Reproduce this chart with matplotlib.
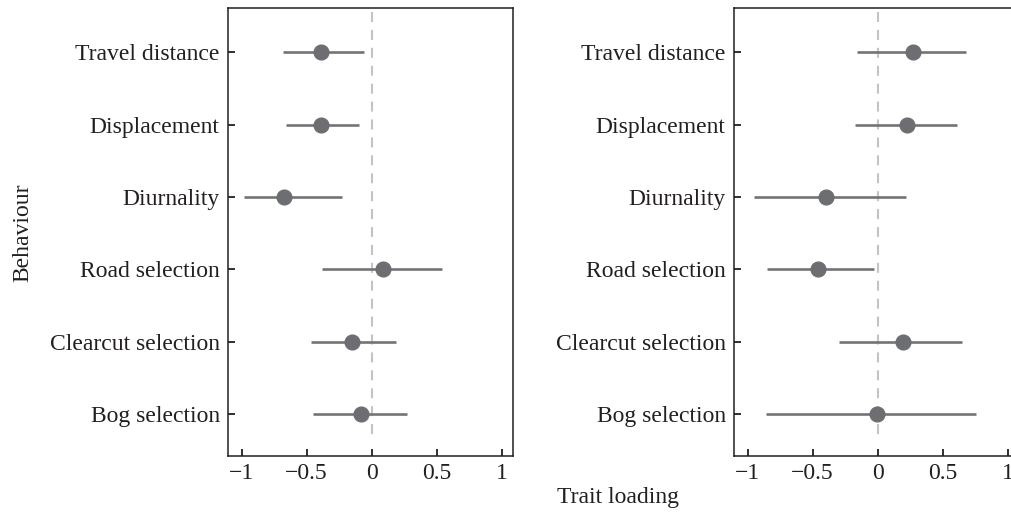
import matplotlib
matplotlib.use("Agg")
import matplotlib.pyplot as plt
import numpy as np

behaviours = ["Bog selection", "Clearcut selection", "Road selection",
              "Diurnality", "Displacement", "Travel distance"]

# left panel
left_est = [-0.08, -0.15, 0.09, -0.675, -0.387, -0.39]
left_lo = [-0.45, -0.47, -0.385, -0.98, -0.657, -0.68]
left_hi = [0.27, 0.19, 0.54, -0.23, -0.10, -0.057]

# right panel
right_est = [-0.005, 0.198, -0.46, -0.40, 0.224, 0.27]
right_lo = [-0.86, -0.30, -0.85, -0.95, -0.172, -0.16]
right_hi = [0.76, 0.65, -0.03, 0.22, 0.613, 0.68]

xticks = [-1, -0.5, 0, 0.5, 1]
xticklabels = ["\u22121", "\u22120.5", "0", "0.5", "1"]

plt.rcParams["font.family"] = ["Liberation Serif", "DejaVu Serif"]
plt.rcParams["font.size"] = 17
text_col = "#231f20"

fig = plt.figure(figsize=(10.11, 5.18), dpi=100)
ax1 = fig.add_axes([228 / 1011, 62 / 518, 284.7 / 1011, 448 / 518])
ax2 = fig.add_axes([734 / 1011, 62 / 518, 284.7 / 1011, 448 / 518])

ypos = np.arange(len(behaviours))

for ax, est, lo, hi in [(ax1, left_est, left_lo, left_hi),
                        (ax2, right_est, right_lo, right_hi)]:
    ax.plot([0, 0], [5.55, -0.36], color="#c3c3c3", lw=1.5,
            linestyle=(0, (4.8, 3.8)), zorder=1)
    ax.hlines(ypos, lo, hi, color="#747476", lw=1.9, zorder=2)
    ax.plot(est, ypos, "o", color="#6d6e71", markersize=10.6, zorder=3)
    ax.set_xlim(-1.105, 1.085)
    ax.set_ylim(-0.58, 5.61)
    ax.set_xticks(xticks)
    ax.set_xticklabels(xticklabels)
    ax.set_yticks(ypos)
    ax.set_yticklabels(behaviours)
    ax.tick_params(direction="in", length=5, width=1.3, colors=text_col,
                   labelcolor=text_col)
    ax.tick_params(axis="y", pad=6)
    ax.tick_params(axis="x", pad=5)
    for s in ax.spines.values():
        s.set_linewidth(1.1)
        s.set_color("#231f20")

fig.text(618 / 1011, 10 / 518, "Trait loading", ha="center", va="bottom",
         color=text_col)
fig.text(12 / 1011, (518 - 233) / 518, "Behaviour", rotation=90, ha="left",
         va="center", color=text_col)

fig.savefig("out.png", dpi=100)
